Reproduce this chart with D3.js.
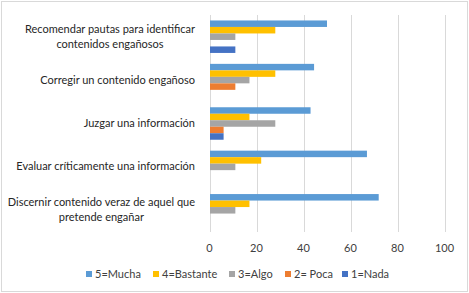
<!DOCTYPE html>
<html>
<head>
<meta charset="utf-8">
<script src="https://cdn.jsdelivr.net/npm/d3@7"></script>
<style>
  html, body { margin: 0; padding: 0; background: #fff; }
  svg { display: block; font-family: Lato, "Open Sans", sans-serif; }
</style>
</head>
<body>
<div id="chart"></div>
<script>
// categories, top to bottom (each label may wrap on several lines)
const categories = [
  ['Recomendar pautas para identificar', 'contenidos  engañosos'],
  ['Corregir  un contenido engañoso'],
  ['Juzgar una información'],
  ['Evaluar críticamente una información'],
  ['Discernir contenido veraz de aquel que', 'pretende  engañar']
];
const seriesNames = ['5=Mucha', '4=Bastante', '3=Algo', '2= Poca', '1=Nada'];
const seriesColors = ['#5B9BD5', '#FFC000', '#A5A5A5', '#ED7D31', '#4472C4'];
// values per series, in the order of categories
const mucha    = [50, 44.5, 43, 67, 72];
const bastante = [28, 28, 17, 22, 17];
const algo     = [11, 17, 28, 11, 11];
const poca     = [0, 11, 6, 0, 0];
const nada     = [11, 0, 6, 0, 0];
const xTicks = [0, 20, 40, 60, 80, 100];

const series = [mucha, bastante, algo, poca, nada];

const W = 469, H = 293;
const plot = { left: 209.5, right: 444.5, top: 15, bottom: 232 };

const svg = d3.select('#chart').append('svg')
  .attr('width', W).attr('height', H);

// chart border
svg.append('rect')
  .attr('x', 1.5).attr('y', 1.5)
  .attr('width', W - 3).attr('height', H - 3)
  .attr('fill', '#fff').attr('stroke', '#d9d9d9');

const x = d3.scaleLinear().domain([0, 100]).range([plot.left, plot.right]);
const y = d3.scaleBand().domain(d3.range(categories.length))
  .range([plot.top, plot.bottom]).paddingInner(0).paddingOuter(0);
const inner = d3.scaleBand().domain(d3.range(seriesNames.length))
  .range([0, y.bandwidth()]).paddingOuter(0.84).paddingInner(0);

// gridlines
svg.append('g').selectAll('line')
  .data(xTicks)
  .join('line')
  .attr('x1', d => Math.round(x(d)) + 0.5).attr('x2', d => Math.round(x(d)) + 0.5)
  .attr('y1', plot.top).attr('y2', plot.bottom)
  .attr('stroke', '#d9d9d9').attr('stroke-width', 1);

// tick labels
svg.append('g').selectAll('text')
  .data(xTicks)
  .join('text')
  .attr('x', d => x(d)).attr('y', 252)
  .attr('text-anchor', 'middle')
  .attr('font-size', 11).attr('fill', '#404040')
  .text(d => d);

// bars
const rows = [];
categories.forEach((c, ci) => {
  series.forEach((s, si) => rows.push({ ci, si, v: s[ci] }));
});
svg.append('g').selectAll('rect')
  .data(rows.filter(d => d.v > 0))
  .join('rect')
  .attr('x', x(0) + 0.5)
  .attr('y', d => y(d.ci) + inner(d.si))
  .attr('width', d => x(d.v) - x(0) - 0.5)
  .attr('height', inner.bandwidth())
  .attr('fill', d => seriesColors[d.si]);

// category labels: block right aligned, lines centered in the block
const labelRight = 195;
const lg = svg.append('g');
categories.forEach((lines, ci) => {
  const cy = y(ci) + y.bandwidth() / 2;
  const t = lg.append('text')
    .attr('font-size', 11).attr('fill', '#262626')
    .attr('text-anchor', 'middle');
  const lineH = 15;
  const tspans = lines.map((ln, i) => t.append('tspan')
    .attr('y', cy + (i - (lines.length - 1) / 2) * lineH + 3.5)
    .text(ln));
  const widest = d3.max(tspans, ts => ts.node().getComputedTextLength());
  tspans.forEach(ts => ts.attr('x', labelRight - widest / 2));
});

// legend
const legendX = [86, 153, 229, 285, 342];
const leg = svg.append('g');
seriesNames.forEach((n, i) => {
  leg.append('rect')
    .attr('x', legendX[i]).attr('y', 271)
    .attr('width', 6).attr('height', 6)
    .attr('fill', seriesColors[i]);
  leg.append('text')
    .attr('x', legendX[i] + 9).attr('y', 277.5)
    .attr('font-size', 11).attr('fill', '#404040')
    .text(n);
});
</script>
</body>
</html>
